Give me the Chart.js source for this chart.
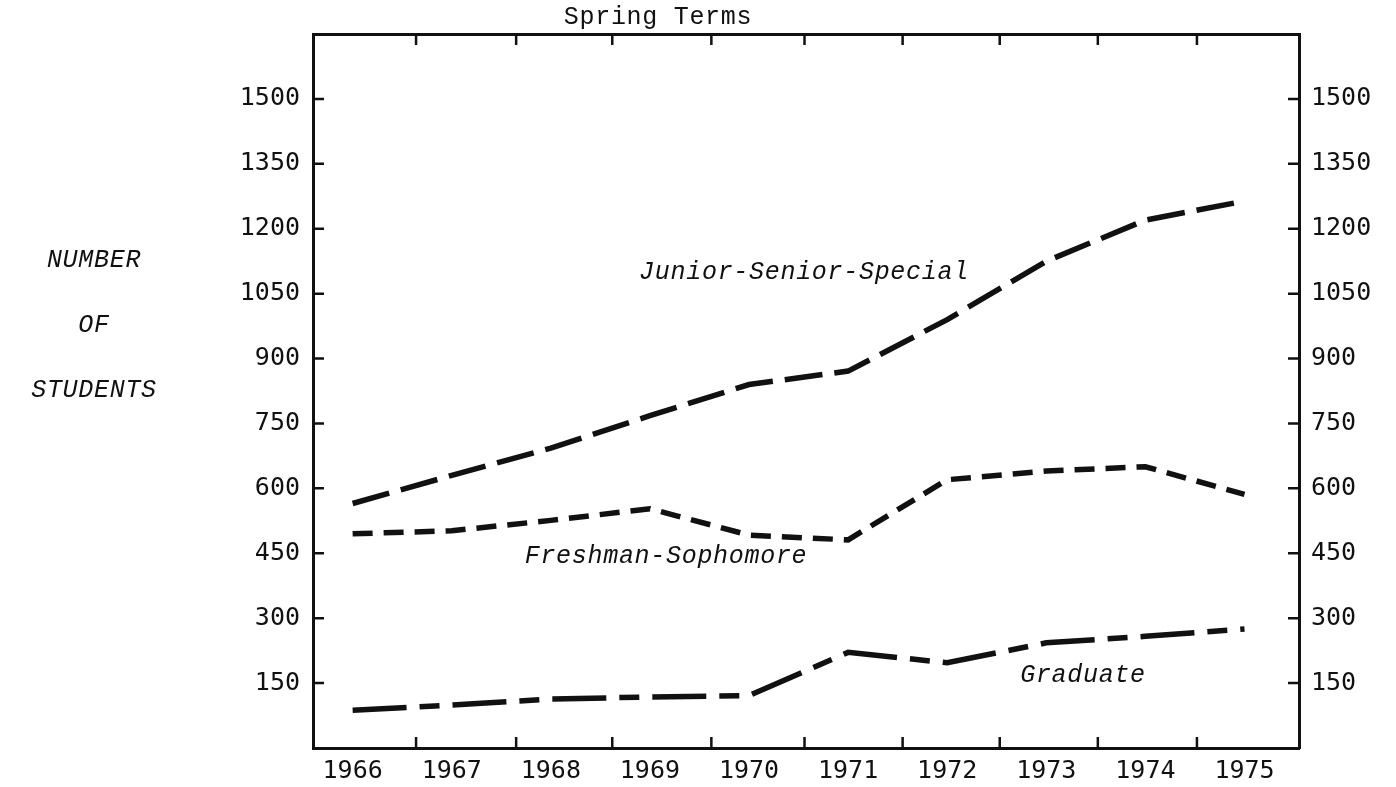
<!DOCTYPE html>
<html>
<head>
<meta charset="utf-8">
<title>Spring Terms - Number of Students</title>
<script src="https://cdn.jsdelivr.net/npm/chart.js@4.4.1/dist/chart.umd.min.js"></script>
<style>
    html, body { margin: 0; padding: 0; background: #ffffff; }
</style>
</head>
<body>
<canvas id="chart" width="1396" height="787"></canvas>
<script>
// Data
const years = [1966, 1967, 1968, 1969, 1970, 1971, 1972, 1973, 1974, 1975];
const juniorSeniorSpecial = [565, 630, 693, 768, 840, 871, 990, 1125, 1220, 1264];
const freshmanSophomore = [495, 502, 526, 553, 492, 481, 620, 640, 650, 586];
const graduate = [87, 99, 113, 118, 121, 221, 197, 243, 258, 275];

const yTicks = [150, 300, 450, 600, 750, 900, 1050, 1200, 1350, 1500];
const xTickMarks = [1966.64, 1967.65, 1968.62, 1969.62, 1970.56, 1971.55, 1972.53, 1973.52, 1974.52];

const INK = "#111111";
const TICK_FONT = { family: "'DejaVu Sans Mono', monospace", size: 25 };
const TYPE_FONT = "'Liberation Mono', 'DejaVu Sans Mono', monospace";

function toPoints(values) {
    return years.map((yr, i) => ({ x: yr, y: values[i] }));
}

// Inward tick marks and the typed labels
const decorations = {
    id: "decorations",
    afterDraw(chart) {
        const { ctx, chartArea: a, scales } = chart;
        ctx.save();
        ctx.strokeStyle = INK;
        ctx.lineWidth = 2.5;
        ctx.beginPath();
        xTickMarks.forEach(v => {
            const px = scales.x.getPixelForValue(v);
            ctx.moveTo(px, a.bottom);
            ctx.lineTo(px, a.bottom - 11);
            ctx.moveTo(px, a.top);
            ctx.lineTo(px, a.top + 11);
        });
        yTicks.forEach(v => {
            const py = scales.y.getPixelForValue(v);
            ctx.moveTo(a.left, py);
            ctx.lineTo(a.left + 11, py);
            ctx.moveTo(a.right, py);
            ctx.lineTo(a.right - 11, py);
        });
        ctx.stroke();

        ctx.fillStyle = INK;
        ctx.textAlign = "center";
        ctx.textBaseline = "alphabetic";
        ctx.letterSpacing = "0.7px";

        ctx.font = "25px " + TYPE_FONT;
        ctx.fillText("Spring Terms", 658, 24);

        ctx.font = "italic 25px " + TYPE_FONT;
        ctx.fillText("Junior-Senior-Special", 804, 279);
        ctx.fillText("Freshman-Sophomore", 666, 563);
        ctx.fillText("Graduate", 1083, 682);

        ctx.fillText("NUMBER", 94, 267);
        ctx.fillText("OF", 94, 332);
        ctx.fillText("STUDENTS", 94, 397);
        ctx.restore();
    }
};

const yTickSetup = scale => { scale.ticks = yTicks.map(v => ({ value: v })); };

const ctx = document.getElementById("chart").getContext("2d");
new Chart(ctx, {
    type: "line",
    data: {
        datasets: [
            {
                label: "Junior-Senior-Special",
                data: toPoints(juniorSeniorSpecial),
                borderColor: INK,
                borderWidth: 5.5,
                borderDash: [38, 12]
            },
            {
                label: "Freshman-Sophomore",
                data: toPoints(freshmanSophomore),
                borderColor: INK,
                borderWidth: 5.5,
                borderDash: [20, 11]
            },
            {
                label: "Graduate",
                data: toPoints(graduate),
                borderColor: INK,
                borderWidth: 5.5,
                borderDash: [54, 13, 20, 13]
            }
        ]
    },
    options: {
        responsive: false,
        animation: false,
        layout: { padding: 0 },
        elements: {
            point: { radius: 0, hoverRadius: 0 },
            line: { tension: 0, fill: false, borderCapStyle: "butt" }
        },
        plugins: {
            legend: { display: false },
            tooltip: { enabled: false }
        },
        scales: {
            x: {
                type: "linear",
                position: "bottom",
                min: 1965.6,
                max: 1975.55,
                afterBuildTicks: scale => { scale.ticks = years.map(v => ({ value: v })); },
                afterFit: scale => { scale.height = 39; },
                grid: { display: false, drawTicks: false },
                border: { display: true, color: INK, width: 3 },
                ticks: {
                    color: INK,
                    font: TICK_FONT,
                    padding: 8,
                    maxRotation: 0,
                    autoSkip: false,
                    callback: v => String(v)
                }
            },
            x2: {
                type: "linear",
                position: "top",
                min: 1965.6,
                max: 1975.55,
                afterFit: scale => { scale.height = 34; },
                grid: { display: false, drawTicks: false },
                border: { display: true, color: INK, width: 3 },
                ticks: { display: false }
            },
            y: {
                type: "linear",
                position: "left",
                min: 0,
                max: 1650,
                afterBuildTicks: yTickSetup,
                afterFit: scale => { scale.width = 313; },
                grid: { display: false, drawTicks: false },
                border: { display: true, color: INK, width: 3 },
                ticks: { color: INK, font: TICK_FONT, padding: 13, callback: v => String(v) }
            },
            y2: {
                type: "linear",
                position: "right",
                min: 0,
                max: 1650,
                afterBuildTicks: yTickSetup,
                afterFit: scale => { scale.width = 97; },
                grid: { display: false, drawTicks: false },
                border: { display: true, color: INK, width: 3 },
                ticks: { color: INK, font: TICK_FONT, padding: 12, callback: v => String(v) }
            }
        }
    },
    plugins: [decorations]
});
</script>
</body>
</html>
